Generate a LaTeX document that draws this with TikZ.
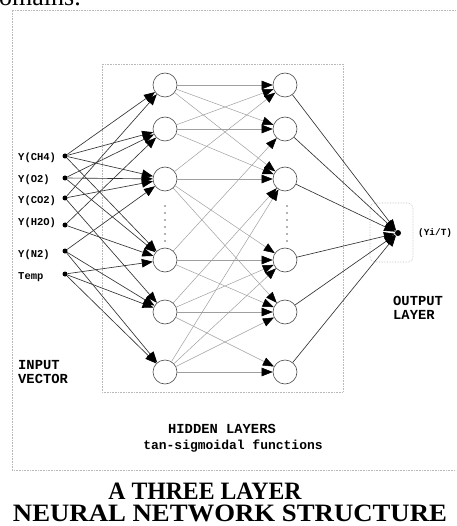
\documentclass[tikz,border=0pt]{standalone}
\usepackage{fontspec}
\setmainfont{Liberation Serif}
\setmonofont{Liberation Mono}
\usetikzlibrary{arrows.meta}

\begin{document}
\begin{tikzpicture}[x=1pt,y=-1pt,
  frame/.style={draw=gray!55, densely dotted, line width=0.6pt},
  neuron/.style={circle, draw=black!70, line width=0.6pt, minimum size=24pt, inner sep=0pt, fill=white},
  inpt/.style={circle, fill=black, minimum size=5pt, inner sep=0pt},
  outdot/.style={circle, fill=black, minimum size=6pt, inner sep=0pt},
  tip/.style={-{Triangle[length=11pt,width=8.5pt,color=black]}},
  feed/.style={tip, draw=black!80, line width=0.65pt},
  link/.style={tip, draw=gray!75, line width=0.5pt},
  lbl/.style={font=\ttfamily\bfseries\fontsize{10.5}{12}\selectfont, anchor=west, inner sep=0pt},
  head/.style={font=\ttfamily\bfseries\fontsize{13.8}{13.5}\selectfont, inner sep=0pt, align=left},
  title/.style={font=\bfseries\fontsize{25}{25}\selectfont, inner sep=0pt, anchor=base},
]
\useasboundingbox (0,0) rectangle (456,526);
\clip (0,0) rectangle (456,526);

% end of the preceding sentence
\node[font=\fontsize{26}{26}\selectfont, anchor=base west, inner sep=0pt] (prev) at (-14,6) {domains.};

% outer frame and group frames
\draw[frame] (470,10) -- (12,10) -- (12,470) -- (470,470);
\draw[frame] (102,64) rectangle (343,392);
\draw[frame, rounded corners=5pt] (370,203) rectangle (413,262);

% input vector
\foreach \n/\y in {1/156,2/178,3/198,4/225,5/251,6/274}{
  \node[inpt] (i\n) at (65,\y) {};
}
\node[lbl] (t1) at (18,158) {Y(CH4)};
\node[lbl] (t2) at (18,180) {Y(O2)};
\node[lbl] (t3) at (18,201) {Y(CO2)};
\node[lbl] (t4) at (18,223) {Y(H2O)};
\node[lbl] (t5) at (18,255) {Y(N2)};
\node[lbl] (t6) at (18,277) {Temp};

% two hidden layers
\foreach \n/\y in {1/85,2/129,3/179,4/260,5/312,6/372}{
  \node[neuron] (h\n) at (165,\y) {};
  \node[neuron] (g\n) at (285,\y) {};
}
\foreach \y in {206,213,...,241}{
  \fill[black!60] (165,\y) circle (0.8pt);
  \fill[black!60] (287,\y) circle (0.8pt);
}

% output neuron
\node[outdot] (o) at (398,233) {};
\node[font=\ttfamily\bfseries\fontsize{9.4}{11}\selectfont, anchor=west, inner sep=0pt] (ol) at (418,233) {(Yi/T)};

% input -> first hidden layer
\foreach \a/\b in {1/1,1/2,1/3,1/4, 2/2,2/3,2/4, 3/1,3/3,3/5, 4/2,4/4, 5/3,5/5,5/6, 6/4,6/5,6/6}{
  \draw[feed] (i\a) -- (h\b);
}

% first hidden layer -> second hidden layer
\foreach \a/\b in {1/1,1/2,1/3, 2/1,2/2,2/3, 3/1,3/3,3/4,3/5, 4/2,4/4,4/5, 5/3,5/4,5/5,5/6, 6/3,6/4,6/5,6/6}{
  \draw[link] (h\a) -- (g\b);
}

% second hidden layer -> output
\foreach \a in {1,...,6}{
  \draw[feed] (g\a) -- (o);
}

% captions
\node[head, anchor=west] (iv) at (18,372) {INPUT\\VECTOR};
\node[head, anchor=west] (ov) at (393,308) {OUTPUT\\LAYER};
\node[head, anchor=center] (hl) at (222,429) {HIDDEN LAYERS};
\node[head, anchor=center, font=\ttfamily\bfseries\fontsize{13}{13}\selectfont] (tf) at (233,446) {tan-sigmoidal functions};

\node[title, xscale=0.95] (ttl1) at (205,499.5) {A THREE LAYER};
\node[title, xscale=1.07] (ttl2) at (230,521) {NEURAL NETWORK STRUCTURE};
\end{tikzpicture}
\end{document}
